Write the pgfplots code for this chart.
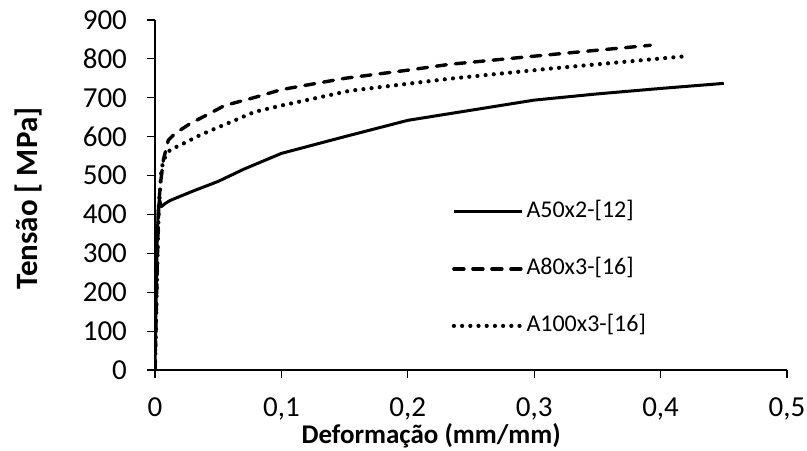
\documentclass[border=0pt]{standalone}
\usepackage{fontspec}
\setmainfont{Carlito}
\usepackage{pgfplots}
\pgfplotsset{compat=1.18}
\begin{document}
\begin{tikzpicture}
\begin{axis}[
  scale only axis, width=316pt, height=175pt,
  xmin=0, xmax=0.5, ymin=0, ymax=900,
  axis lines=left,
  axis line style={-, line width=0.6pt, black},
  xtick={0,0.1,0.2,0.3,0.4,0.5},
  xticklabels={0,{0,1},{0,2},{0,3},{0,4},{0,5}},
  ytick={0,100,200,300,400,500,600,700,800,900},
  tick align=outside, major tick length=4pt,
  tick style={black, line width=0.6pt},
  ticklabel style={font=\fontsize{14.5}{16}\selectfont},
  xticklabel style={yshift=-6.5pt},
  yticklabel style={xshift=-6.5pt},
  /pgf/number format/assume math mode=true,
  xlabel={\textbf{Deformação (mm/mm)}},
  xlabel style={font=\fontsize{13.5}{15}\selectfont, at={(axis description cs:0.437,0)}, anchor=center, yshift=-33pt},
  ylabel={\textbf{Tensão [ MPa]}},
  ylabel style={font=\fontsize{15.5}{17}\selectfont, at={(axis description cs:-0.2,0.49)}, anchor=center},
  legend style={draw=none, fill=none, inner sep=0pt, at={(axis cs:0.2345,260)}, anchor=west,
    font=\fontsize{12}{14}\selectfont, row sep=16pt,
    nodes={inner sep=1.25pt, text height=8pt, text depth=2pt}},
  legend cell align=left,
  legend image code/.code={\draw[#1] (0pt,0pt) -- (34pt,0pt);},
]
\addplot[black, line width=1.5pt, line join=round] coordinates {
(0,0) (0.0015,300) (0.0025,410) (0.0035,440) (0.005,420) (0.008,428) (0.012,436)
(0.03,460) (0.05,485) (0.07,516) (0.1,557) (0.15,600) (0.2,642) (0.25,668)
(0.3,694) (0.35,710) (0.4,724) (0.45,737)
};
\addlegendentry{A50x2-[12]}
\addplot[black, line width=1.7pt, line cap=round, dash pattern=on 5pt off 4.5pt] coordinates {
(0,0) (0.002,300) (0.003,420) (0.004,470) (0.0066,540) (0.0105,591) (0.0158,608)
(0.028,634) (0.0435,660) (0.055,680) (0.079,701) (0.1,721) (0.15,750) (0.2,771)
(0.233,786) (0.3,807) (0.339,819) (0.392,835)
};
\addlegendentry{A80x3-[16]}
\addplot[black, line width=2.1pt, line cap=round, dash pattern=on 0pt off 4.1pt] coordinates {
(0,0) (0.002,300) (0.003,420) (0.005,510) (0.0066,540) (0.0119,566) (0.021,580)
(0.0356,604) (0.0435,615) (0.079,664) (0.1,680) (0.154,718) (0.2,736) (0.233,749)
(0.3125,775) (0.417,806)
};
\addlegendentry{A100x3-[16]}
\end{axis}
\pgfresetboundingbox
\path (current axis.south west) ++(-77.5pt,-40pt) rectangle ++(403.5pt,225pt);
\end{tikzpicture}
\end{document}
